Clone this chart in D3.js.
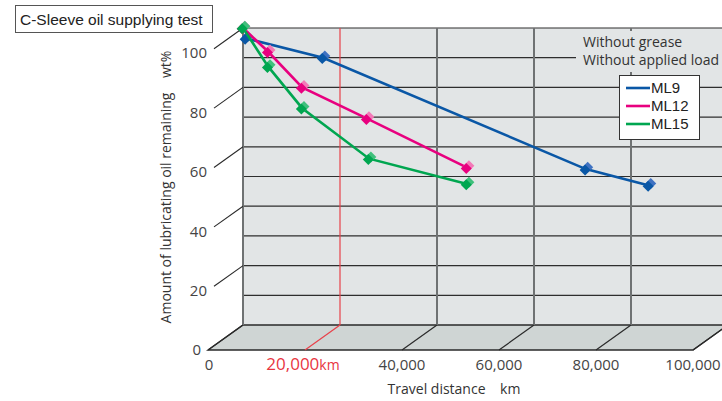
<!DOCTYPE html>
<html><head><meta charset="utf-8">
<script src="https://cdn.jsdelivr.net/npm/d3@7"></script>
<style>body{margin:0;background:#fff}svg{display:block}</style>
</head><body>
<svg id="c" width="722" height="401"></svg>
<script>
// ---- data ----
const seriesNames = ["ML9", "ML12", "ML15"];
const seriesColors = ["#0a57a6", "#e8007f", "#00a650"];
const seriesLight = ["#3f72c2", "#f37ab8", "#3fc07c"];
const ml9Km = [600, 16500, 70700, 83700];
const ml9Val = [96.5, 90, 52.5, 47];
const ml12Km = [0, 5200, 12200, 25600, 46200];
const ml12Val = [100, 92, 80, 69.5, 53];
const ml15Km = [0, 5200, 12200, 26000, 46200];
const ml15Val = [100, 87, 73, 56, 47.5];
const xTicks = [0, 20000, 40000, 60000, 80000, 100000];
const xTickLabels = ["0", "20,000", "40,000", "60,000", "80,000", "100,000"];
const yTicks = [0, 20, 40, 60, 80, 100];
const yGrid = [10, 20, 30, 40, 50, 60, 70, 80, 90, 100];

const svg = d3.select("#c");
const DX = 35, DY = 25;               // depth offset of back wall
const x = d3.scaleLinear().domain([0, 100000]).range([243, 728]); // back plane
const y = d3.scaleLinear().domain([0, 100]).range([325, 28]);
const fx = v => x(v) - DX, fy = v => y(v) + DY;  // front plane
const sans = "'Liberation Sans', Arial, sans-serif";
const hum = "'Open Sans', 'Noto Sans', sans-serif";

// wall
svg.append("rect").attr("x", x(0)).attr("y", y(100)).attr("width", x(100000) - x(0))
  .attr("height", y(0) - y(100)).attr("fill", "#e2e5e6");
// floor
svg.append("path").attr("d", `M${fx(0)},${fy(0)}L${fx(100000)},${fy(0)}L${x(100000)},${y(0)}L${x(0)},${y(0)}Z`)
  .attr("fill", "#cfd5d4").attr("stroke", "#2a2a2a").attr("stroke-width", 1.3);

// horizontal grid lines on wall
svg.append("g").selectAll("line").data(yGrid).join("line")
  .attr("x1", x(0)).attr("x2", x(100000)).attr("y1", d => y(d)).attr("y2", d => y(d))
  .attr("stroke", "#2e2e2e").attr("stroke-width", 1.2);

// vertical wall lines
svg.append("g").selectAll("line").data(xTicks.filter(d => d !== 20000 && d < 100000)).join("line")
  .attr("x1", d => x(d)).attr("x2", d => x(d)).attr("y1", y(100)).attr("y2", y(0))
  .attr("stroke", "#6f7273").attr("stroke-width", 2);

// floor diagonals
svg.append("g").selectAll("line").data(xTicks.filter(d => d > 0)).join("line")
  .attr("x1", d => fx(d)).attr("y1", fy(0)).attr("x2", d => x(d)).attr("y2", y(0))
  .attr("stroke", d => d === 20000 ? "#e8414a" : "#2a2a2a").attr("stroke-width", 1.2);
svg.append("line").attr("x1", fx(0)).attr("y1", fy(0)).attr("x2", x(0)).attr("y2", y(0))
  .attr("stroke", "#2a2a2a").attr("stroke-width", 1.3);
// red 20,000 line on wall
svg.append("line").attr("x1", x(20000)).attr("x2", x(20000)).attr("y1", y(100)).attr("y2", y(0))
  .attr("stroke", "#e8414a").attr("stroke-width", 1.2);

// y tick diagonals
const t0 = 6 / DX;
svg.append("g").selectAll("line").data(yTicks.filter(d => d > 0)).join("line")
  .attr("x1", fx(0) + DX * t0).attr("y1", d => fy(d) - DY * t0)
  .attr("x2", x(0)).attr("y2", d => y(d))
  .attr("stroke", "#2a2a2a").attr("stroke-width", 1.1);

// y tick labels
svg.append("g").selectAll("text").data(yTicks).join("text")
  .attr("x", d => d === 0 ? 201 : 207).attr("y", d => fy(d)).attr("dy", "0.36em")
  .attr("text-anchor", "end").attr("font-family", hum).attr("font-size", 15)
  .attr("fill", "#444").text(d => d);

// x tick labels
const xl = svg.append("g").selectAll("text").data(xTicks).join("text")
  .attr("x", (d, i) => i === 0 ? fx(d) + 1 : (i === 1 ? fx(d) - 2 : fx(d))).attr("y", 370)
  .attr("text-anchor", "middle").attr("font-family", hum).attr("font-size", 15)
  .attr("fill", (d, i) => i === 1 ? "#e8353f" : "#444");
xl.append("tspan").text((d, i) => xTickLabels[i]).attr("font-size", (d, i) => i === 1 ? 17 : 15);
xl.filter((d, i) => i === 1).append("tspan").attr("font-size", 14).text("km");

// axis titles
svg.append("text").attr("x", 454).attr("y", 394).attr("text-anchor", "middle")
  .attr("font-family", hum).attr("font-size", 14).attr("fill", "#333")
  .attr("xml:space", "preserve").text("Travel distance    km");
svg.append("text").attr("transform", "translate(171,187) rotate(-90)").attr("text-anchor", "middle")
  .attr("font-family", hum).attr("font-size", 14).attr("fill", "#333")
  .attr("xml:space", "preserve").text("Amount of lubricating oil remaining    wt%");

// annotation with wall-coloured background
svg.append("rect").attr("x", 576).attr("y", 31).attr("width", 152).attr("height", 41).attr("fill", "#e2e5e6");
svg.append("text").attr("x", 583).attr("y", 47).attr("font-family", hum).attr("font-size", 14)
  .attr("fill", "#333").text("Without grease");
svg.append("text").attr("x", 583).attr("y", 65).attr("font-family", hum).attr("font-size", 14)
  .attr("fill", "#333").text("Without applied load");

// series
const series = [
  {km: ml9Km, val: ml9Val},
  {km: ml12Km, val: ml12Val},
  {km: ml15Km, val: ml15Val}
];
const line = d3.line().x(d => x(d[0])).y(d => y(d[1]));
const diamond = (cx, cy, r) => `M${cx},${cy - r}L${cx + r},${cy}L${cx},${cy + r}L${cx - r},${cy}Z`;
series.forEach((s, i) => {
  const pts = s.km.map((k, j) => [k, s.val[j]]);
  const g = svg.append("g");
  g.append("path").attr("d", line(pts)).attr("fill", "none")
    .attr("stroke", seriesColors[i]).attr("stroke-width", 2.6);
  g.selectAll("path.hl").data(pts).join("path").attr("class", "hl")
    .attr("d", d => diamond(x(d[0]) + 1.8, y(d[1]) - 1.8, 5.5)).attr("fill", seriesLight[i]);
  g.selectAll("path.mk").data(pts).join("path").attr("class", "mk")
    .attr("d", d => diamond(x(d[0]) - 0.8, y(d[1]) + 0.8, 5.5)).attr("fill", seriesColors[i]);
});

// legend
const lg = svg.append("g");
lg.append("rect").attr("x", 619.5).attr("y", 75.5).attr("width", 80).attr("height", 64)
  .attr("fill", "#fff").attr("stroke", "#333").attr("stroke-width", 1);
seriesNames.forEach((n, i) => {
  const ly = 88 + i * 18;
  lg.append("line").attr("x1", 626).attr("x2", 650).attr("y1", ly).attr("y2", ly)
    .attr("stroke", seriesColors[i]).attr("stroke-width", 2.6);
  lg.append("text").attr("x", 651).attr("y", ly).attr("dy", "0.36em")
    .attr("font-family", sans).attr("font-size", 15).attr("fill", "#222").text(n);
});

// title box
svg.append("rect").attr("x", 15.5).attr("y", 5.5).attr("width", 197).attr("height", 27)
  .attr("fill", "#fff").attr("stroke", "#555").attr("stroke-width", 1);
svg.append("text").attr("x", 20).attr("y", 24.5).attr("font-family", sans).attr("font-size", 15.5)
  .attr("fill", "#222").text("C-Sleeve oil supplying test");
</script>
</body></html>
